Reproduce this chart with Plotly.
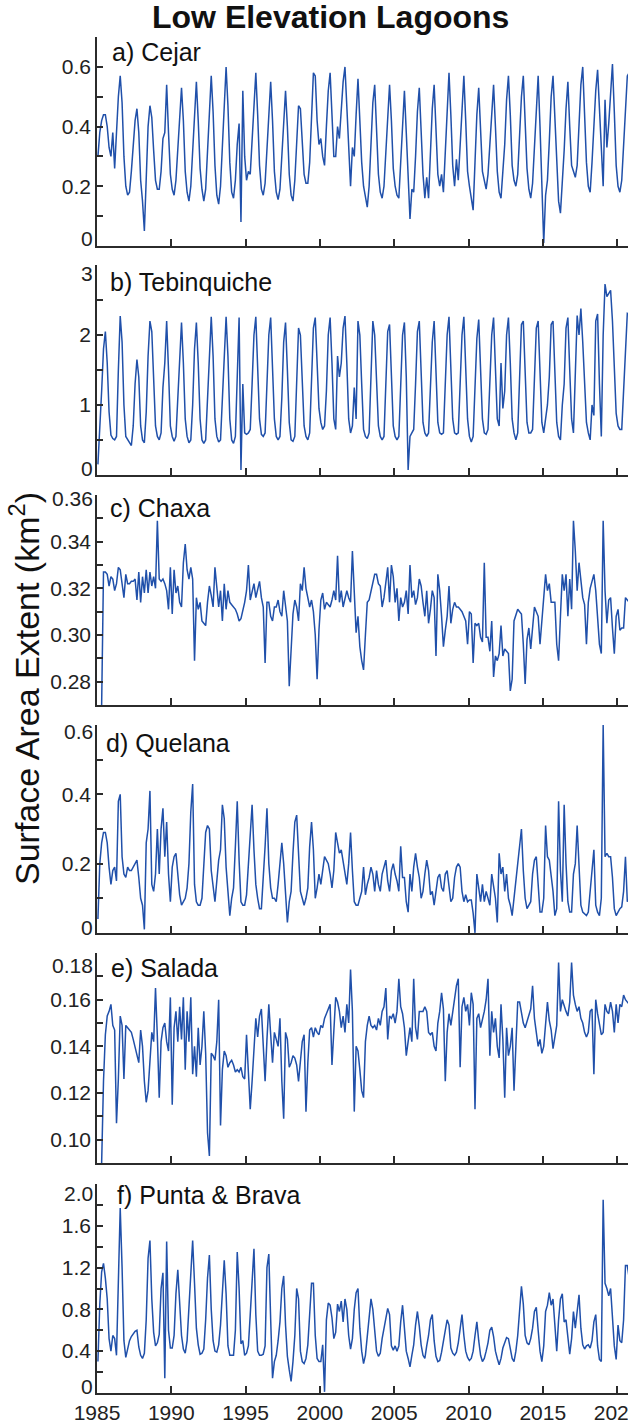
import plotly.graph_objects as go

# ---------------- data (8 samples per year, 1985-2020) ----------------
years = list(range(1985, 2021))
per_year = 8
t = [y + (k + 0.5) / per_year for y in years for k in range(per_year)]

cejar = [
    0.30, 0.38, 0.42, 0.44, 0.44, 0.40, 0.33, 0.30,
    0.38, 0.26, 0.38, 0.50, 0.57, 0.48, 0.30, 0.20,
    0.17, 0.18, 0.25, 0.34, 0.42, 0.46, 0.38, 0.22,
    0.15, 0.05, 0.25, 0.40, 0.47, 0.43, 0.32, 0.22,
    0.19, 0.19, 0.25, 0.36, 0.38, 0.54, 0.38, 0.24,
    0.19, 0.17, 0.22, 0.33, 0.45, 0.53, 0.42, 0.25,
    0.18, 0.15, 0.20, 0.33, 0.47, 0.55, 0.42, 0.26,
    0.19, 0.15, 0.19, 0.32, 0.48, 0.57, 0.45, 0.27,
    0.17, 0.14, 0.20, 0.34, 0.50, 0.60, 0.47, 0.28,
    0.18, 0.16, 0.22, 0.34, 0.41, 0.08, 0.52, 0.30,
    0.22, 0.25, 0.24, 0.36, 0.50, 0.58, 0.44, 0.27,
    0.19, 0.17, 0.21, 0.33, 0.46, 0.55, 0.42, 0.25,
    0.18, 0.155, 0.19, 0.30, 0.43, 0.52, 0.40, 0.24,
    0.17, 0.15, 0.22, 0.34, 0.47, 0.46, 0.36, 0.24,
    0.21, 0.21, 0.28, 0.42, 0.58, 0.57, 0.42, 0.34,
    0.36, 0.30, 0.27, 0.40, 0.52, 0.58, 0.45, 0.30,
    0.30, 0.40, 0.36, 0.45, 0.55, 0.60, 0.46, 0.30,
    0.20, 0.33, 0.30, 0.44, 0.56, 0.42, 0.28, 0.20,
    0.16, 0.13, 0.20, 0.33, 0.48, 0.54, 0.40, 0.24,
    0.18, 0.16, 0.20, 0.32, 0.46, 0.54, 0.42, 0.26,
    0.20, 0.17, 0.16, 0.28, 0.44, 0.52, 0.38, 0.22,
    0.09, 0.19, 0.18, 0.30, 0.45, 0.53, 0.38, 0.24,
    0.16, 0.23, 0.16, 0.30, 0.46, 0.54, 0.40, 0.24,
    0.20, 0.24, 0.18, 0.32, 0.48, 0.58, 0.44, 0.27,
    0.20, 0.29, 0.22, 0.34, 0.49, 0.57, 0.42, 0.25,
    0.20, 0.15, 0.12, 0.28, 0.44, 0.53, 0.40, 0.25,
    0.22, 0.19, 0.24, 0.34, 0.48, 0.54, 0.40, 0.25,
    0.18, 0.16, 0.25, 0.34, 0.49, 0.57, 0.44, 0.27,
    0.22, 0.20, 0.24, 0.36, 0.50, 0.57, 0.43, 0.26,
    0.19, 0.16, 0.21, 0.34, 0.49, 0.57, 0.40, 0.20,
    0.01, 0.17, 0.22, 0.35, 0.50, 0.57, 0.42, 0.24,
    0.15, 0.11, 0.20, 0.32, 0.46, 0.55, 0.40, 0.27,
    0.25, 0.23, 0.27, 0.40, 0.54, 0.60, 0.45, 0.28,
    0.20, 0.18, 0.28, 0.40, 0.52, 0.59, 0.45, 0.30,
    0.20, 0.49, 0.33, 0.41, 0.52, 0.61, 0.45, 0.27,
    0.20, 0.18, 0.22, 0.34, 0.48, 0.57, 0.58, 0.45,
]

tebinquiche = [
    0.15, 0.60, 1.20, 1.80, 2.05, 1.60, 0.90, 0.57,
    0.52, 0.50, 0.55, 1.50, 2.27, 1.90, 1.00, 0.55,
    0.50, 0.45, 0.42, 0.70, 1.30, 1.65, 1.40, 0.70,
    0.50, 0.46, 0.90, 1.70, 2.20, 2.05, 1.40, 0.70,
    0.55, 0.50, 0.60, 1.25, 1.60, 2.20, 1.50, 0.70,
    0.55, 0.48, 0.55, 1.10, 1.80, 2.18, 1.60, 0.80,
    0.55, 0.46, 0.50, 1.00, 1.80, 2.18, 1.60, 0.80,
    0.50, 0.45, 0.50, 1.10, 1.90, 2.26, 1.70, 0.80,
    0.55, 0.47, 0.50, 1.10, 1.90, 2.26, 1.70, 0.80,
    0.50, 0.45, 0.55, 1.30, 2.25, 0.07, 1.30, 0.60,
    0.58, 0.60, 0.65, 1.30, 2.00, 2.26, 1.60, 0.80,
    0.58, 0.55, 0.60, 1.20, 2.00, 2.25, 1.60, 0.80,
    0.55, 0.50, 0.55, 1.10, 1.90, 2.18, 1.50, 0.75,
    0.50, 0.48, 0.55, 1.30, 2.10, 2.00, 1.30, 0.70,
    0.55, 0.50, 0.60, 1.30, 2.10, 2.25, 1.50, 0.95,
    0.75, 0.65, 0.70, 1.20, 2.00, 2.25, 1.60, 0.80,
    0.65, 1.70, 1.40, 1.60, 2.10, 2.27, 1.60, 0.80,
    0.60, 0.70, 1.25, 0.80, 2.20, 2.00, 1.30, 0.65,
    0.55, 0.52, 0.60, 1.40, 2.20, 2.00, 1.30, 0.70,
    0.55, 0.50, 0.55, 1.20, 2.05, 2.15, 1.40, 0.70,
    0.55, 0.50, 0.55, 1.20, 2.00, 2.18, 1.40, 0.07,
    0.55, 0.60, 0.65, 1.30, 2.05, 2.20, 1.50, 0.75,
    0.60, 0.55, 0.60, 1.20, 1.90, 2.20, 1.50, 0.75,
    0.60, 0.58, 0.60, 1.20, 2.00, 2.26, 1.60, 0.80,
    0.60, 0.58, 0.60, 1.20, 2.00, 2.26, 1.60, 0.80,
    0.55, 0.47, 0.55, 1.20, 1.95, 2.22, 1.60, 0.80,
    0.60, 0.58, 0.65, 1.30, 2.00, 2.25, 1.60, 0.80,
    0.70, 1.60, 0.95, 1.20, 2.00, 2.25, 1.60, 0.80,
    0.60, 0.50, 0.60, 1.40, 2.15, 2.20, 1.50, 0.75,
    0.60, 0.60, 0.65, 1.30, 2.10, 2.20, 1.50, 0.75,
    0.60, 0.80, 1.00, 1.40, 2.15, 2.20, 1.50, 0.75,
    0.55, 0.50, 1.00, 1.30, 2.10, 2.25, 1.50, 0.80,
    0.60, 1.60, 2.28, 2.00, 2.38, 1.90, 1.20, 0.75,
    0.60, 0.50, 1.00, 0.85, 2.20, 2.30, 1.30, 0.55,
    2.00, 2.73, 2.55, 2.60, 2.64, 2.20, 1.50, 0.88,
    0.70, 0.65, 0.65, 1.20, 1.90, 2.31, 2.30, 2.00,
]

chaxa = [
    None, None, 0.270, 0.327, 0.327, 0.326, 0.321, 0.325,
    0.324, 0.319, 0.322, 0.329, 0.328, 0.322, 0.316, 0.326,
    0.322, 0.322, 0.323, 0.323, 0.324, 0.315, 0.327, 0.314,
    0.325, 0.318, 0.328, 0.318, 0.327, 0.321, 0.325, 0.320,
    0.349, 0.324, 0.323, 0.324, 0.322, 0.319, 0.311, 0.329,
    0.309, 0.328, 0.318, 0.321, 0.314, 0.312, 0.331, 0.339,
    0.328, 0.324, 0.329, 0.324, 0.289, 0.316, 0.311, 0.314,
    0.306, 0.305, 0.304, 0.314, 0.321, 0.317, 0.312, 0.329,
    0.321, 0.312, 0.319, 0.306, 0.322, 0.311, 0.319, 0.314,
    0.313, 0.312, 0.311, 0.309, 0.306, 0.307, 0.310, 0.314,
    0.319, 0.330, 0.315, 0.318, 0.322, 0.316, 0.319, 0.323,
    0.316, 0.312, 0.288, 0.314, 0.314, 0.308, 0.306, 0.312,
    0.312, 0.315, 0.310, 0.308, 0.319, 0.311, 0.306, 0.278,
    0.296, 0.309, 0.315, 0.312, 0.306, 0.322, 0.319, 0.329,
    0.320, 0.316, 0.312, 0.315, 0.310, 0.300, 0.281, 0.302,
    0.315, 0.318, 0.311, 0.314, 0.313, 0.312, 0.315, 0.319,
    0.315, 0.334, 0.314, 0.319, 0.312, 0.315, 0.319, 0.316,
    0.314, 0.336, 0.316, 0.301, 0.308, 0.295, 0.289, 0.285,
    0.300, 0.314, 0.315, 0.319, 0.322, 0.326, 0.326, 0.322,
    0.321, 0.312, 0.316, 0.322, 0.329, 0.314, 0.330, 0.325,
    0.314, 0.320, 0.306, 0.316, 0.312, 0.314, 0.319, 0.309,
    0.330, 0.316, 0.319, 0.313, 0.316, 0.324, 0.321, 0.314,
    0.308, 0.319, 0.305, 0.311, 0.319, 0.316, 0.291, 0.326,
    0.319, 0.308, 0.295, 0.302, 0.308, 0.321, 0.305, 0.311,
    0.314, 0.312, 0.312, 0.311, 0.310, 0.308, 0.306, 0.296,
    0.310, 0.309, 0.288, 0.305, 0.304, 0.305, 0.299, 0.297,
    0.331, 0.299, 0.299, 0.293, 0.306, 0.282, 0.291, 0.289,
    0.292, 0.304, 0.291, 0.294, 0.293, 0.292, 0.276, 0.281,
    0.306, 0.309, 0.311, 0.310, 0.309, 0.296, 0.279, 0.298,
    0.303, 0.294, 0.305, 0.312, 0.310, 0.308, 0.296, 0.306,
    0.315, 0.326, 0.319, 0.322, 0.314, 0.314, 0.314, 0.296,
    0.289, 0.308, 0.326, 0.319, 0.326, 0.308, 0.324, 0.311,
    0.349, 0.336, 0.319, 0.331, 0.322, 0.316, 0.313, 0.296,
    0.314, 0.320, 0.323, 0.326, 0.319, 0.308, 0.296, 0.292,
    0.349, 0.319, 0.305, 0.315, 0.316, 0.303, 0.292, 0.308,
    0.311, 0.302, 0.303, 0.303, 0.316, 0.315, 0.314, 0.312,
]

quelana = [
    0.04, 0.20, 0.26, 0.29, 0.29, 0.26, 0.19, 0.14,
    0.18, 0.19, 0.15, 0.38, 0.40, 0.22, 0.17, 0.16,
    0.19, 0.18, 0.18, 0.19, 0.20, 0.21, 0.16, 0.10,
    0.08, 0.01, 0.26, 0.30, 0.41, 0.14, 0.12, 0.17,
    0.30, 0.17, 0.30, 0.36, 0.22, 0.32, 0.17, 0.09,
    0.19, 0.22, 0.23, 0.16, 0.11, 0.08, 0.09, 0.10,
    0.13, 0.20, 0.35, 0.43, 0.14, 0.09, 0.08, 0.08,
    0.10, 0.18, 0.29, 0.31, 0.30, 0.18, 0.13, 0.09,
    0.15, 0.21, 0.24, 0.37, 0.33, 0.19, 0.12, 0.05,
    0.10, 0.13, 0.25, 0.38, 0.21, 0.09, 0.08, 0.08,
    0.11, 0.20, 0.30, 0.37, 0.24, 0.14, 0.10, 0.07,
    0.07, 0.15, 0.25, 0.36, 0.20, 0.13, 0.10, 0.10,
    0.09, 0.14, 0.20, 0.26, 0.20, 0.12, 0.03, 0.09,
    0.12, 0.23, 0.32, 0.34, 0.22, 0.12, 0.10, 0.08,
    0.10, 0.13, 0.25, 0.32, 0.24, 0.10, 0.13, 0.17,
    0.14, 0.18, 0.22, 0.21, 0.20, 0.17, 0.13, 0.18,
    0.29, 0.26, 0.23, 0.24, 0.21, 0.18, 0.14, 0.20,
    0.29, 0.18, 0.09, 0.08, 0.08, 0.10, 0.12, 0.19,
    0.11, 0.14, 0.16, 0.19, 0.17, 0.12, 0.18, 0.14,
    0.12, 0.17, 0.19, 0.21, 0.15, 0.12, 0.18, 0.20,
    0.17, 0.15, 0.12, 0.25, 0.16, 0.16, 0.09, 0.06,
    0.17, 0.12, 0.19, 0.23, 0.19, 0.16, 0.10, 0.12,
    0.17, 0.21, 0.18, 0.11, 0.12, 0.08, 0.12, 0.16,
    0.17, 0.13, 0.12, 0.17, 0.18, 0.14, 0.09, 0.10,
    0.16, 0.19, 0.20, 0.19, 0.12, 0.09, 0.11, 0.09,
    0.095, 0.095, 0.057, 0.0, 0.17, 0.13, 0.09, 0.14,
    0.09, 0.12, 0.10, 0.08, 0.17, 0.13, 0.10, 0.03,
    0.23, 0.17, 0.19, 0.12, 0.17, 0.10, 0.08, 0.05,
    0.10, 0.16, 0.22, 0.27, 0.30, 0.18, 0.10, 0.07,
    0.08, 0.09, 0.17, 0.21, 0.22, 0.12, 0.06, 0.06,
    0.10, 0.31, 0.22, 0.21, 0.17, 0.12, 0.05, 0.07,
    0.38, 0.18, 0.09, 0.37, 0.20, 0.09, 0.06, 0.06,
    0.17, 0.20, 0.31, 0.17, 0.08, 0.06, 0.055, 0.05,
    0.06, 0.12, 0.18, 0.24, 0.08, 0.06, 0.05, 0.10,
    0.60, 0.22, 0.23, 0.22, 0.22, 0.16, 0.07, 0.05,
    0.06, 0.07, 0.075, 0.12, 0.22, 0.09, 0.10, 0.12,
]

salada = [
    None, None, 0.090, 0.125, 0.145, 0.153, 0.155, 0.158,
    0.149, 0.147, 0.107, 0.126, 0.153, 0.149, 0.126, 0.149,
    0.148, 0.147, 0.146, 0.143, 0.140, 0.136, 0.133, 0.147,
    0.140, 0.125, 0.116, 0.121, 0.136, 0.146, 0.142, 0.165,
    0.144, 0.118, 0.142, 0.148, 0.150, 0.142, 0.138, 0.161,
    0.115, 0.148, 0.155, 0.142, 0.157, 0.143, 0.161, 0.130,
    0.155, 0.142, 0.161, 0.128, 0.140, 0.127, 0.148, 0.132,
    0.140, 0.155, 0.137, 0.103, 0.093, 0.137, 0.136, 0.134,
    0.142, 0.160, 0.106, 0.130, 0.138, 0.136, 0.131, 0.133,
    0.134, 0.132, 0.129, 0.130, 0.129, 0.131, 0.127, 0.126,
    0.145, 0.130, 0.113, 0.125, 0.140, 0.152, 0.144, 0.153,
    0.156, 0.140, 0.125, 0.143, 0.158, 0.145, 0.133, 0.146,
    0.143, 0.140, 0.152, 0.125, 0.109, 0.146, 0.143, 0.131,
    0.133, 0.136, 0.135, 0.132, 0.125, 0.135, 0.142, 0.145,
    0.112, 0.133, 0.147, 0.148, 0.144, 0.148, 0.146, 0.145,
    0.149, 0.148, 0.152, 0.154, 0.156, 0.158, 0.132, 0.146,
    0.161, 0.159, 0.155, 0.148, 0.153, 0.146, 0.158, 0.150,
    0.173, 0.155, 0.112, 0.140, 0.138, 0.130, 0.121, 0.118,
    0.142, 0.149, 0.153, 0.149, 0.148, 0.149, 0.147, 0.152,
    0.149, 0.155, 0.157, 0.165, 0.143, 0.153, 0.152, 0.154,
    0.150, 0.155, 0.169, 0.157, 0.154, 0.148, 0.136, 0.142,
    0.148, 0.142, 0.169, 0.148, 0.143, 0.155, 0.155, 0.155,
    0.157, 0.155, 0.146, 0.145, 0.146, 0.140, 0.138, 0.150,
    0.155, 0.163, 0.156, 0.125, 0.146, 0.154, 0.149, 0.155,
    0.160, 0.166, 0.169, 0.131, 0.157, 0.161, 0.155, 0.158,
    0.149, 0.163, 0.158, 0.113, 0.152, 0.154, 0.148, 0.151,
    0.155, 0.160, 0.169, 0.136, 0.155, 0.146, 0.152, 0.140,
    0.135, 0.158, 0.143, 0.118, 0.148, 0.136, 0.140, 0.148,
    0.121, 0.140, 0.159, 0.159, 0.155, 0.150, 0.148, 0.151,
    0.153, 0.156, 0.166, 0.152, 0.146, 0.140, 0.143, 0.137,
    0.140, 0.149, 0.159, 0.151, 0.147, 0.139, 0.144, 0.149,
    0.176, 0.155, 0.160, 0.157, 0.155, 0.153, 0.159, 0.176,
    0.162, 0.158, 0.155, 0.157, 0.152, 0.150, 0.146, 0.144,
    0.146, 0.155, 0.156, 0.128, 0.160, 0.154, 0.149, 0.145,
    0.146, 0.158, 0.155, 0.154, 0.159, 0.155, 0.146, 0.158,
    0.150, 0.158, 0.157, 0.162, 0.160, 0.159, 0.158, 0.157,
]

punta_brava = [
    0.30, 0.85, 1.16, 1.24, 1.10, 0.90, 0.52, 0.40,
    0.55, 0.52, 0.36, 1.20, 1.77, 1.20, 0.50, 0.34,
    0.44, 0.50, 0.54, 0.57, 0.59, 0.60, 0.44, 0.36,
    0.33, 0.38, 0.70, 1.29, 1.46, 0.90, 0.58, 0.45,
    0.48, 0.56, 1.00, 1.15, 0.14, 1.45, 0.60, 0.43,
    0.43, 0.55, 0.95, 1.18, 0.90, 0.55, 0.42, 0.38,
    0.50, 0.80, 1.10, 1.46, 1.05, 0.62, 0.46, 0.37,
    0.38, 0.42, 0.70, 1.10, 1.32, 0.80, 0.50, 0.40,
    0.39, 0.46, 0.65, 0.95, 1.27, 0.95, 0.45, 0.36,
    0.36, 0.36, 0.60, 1.35, 1.00, 0.47, 0.50, 0.36,
    0.38, 0.45, 0.75, 1.10, 1.38, 0.75, 0.40, 0.36,
    0.36, 0.37, 0.45, 1.20, 1.33, 0.70, 0.14, 0.30,
    0.36, 0.50, 0.68, 1.00, 1.12, 0.65, 0.35, 0.22,
    0.11, 0.30, 0.55, 1.00, 0.90, 0.40, 0.30, 0.28,
    0.33, 0.46, 0.80, 1.05, 1.05, 0.55, 0.33, 0.30,
    0.30, 0.46, 0.01, 0.70, 0.86, 0.84, 0.72, 0.52,
    0.58, 0.85, 0.78, 0.88, 0.68, 0.90, 0.80, 0.55,
    0.42, 0.52, 0.80, 0.96, 1.00, 0.62, 0.40, 0.28,
    0.36, 0.52, 0.71, 0.90, 0.80, 0.58, 0.40, 0.35,
    0.38, 0.52, 0.62, 0.75, 0.81, 0.75, 0.45, 0.41,
    0.45, 0.40, 0.45, 0.68, 0.84, 0.62, 0.40, 0.33,
    0.25, 0.36, 0.46, 0.65, 0.78, 0.64, 0.46, 0.36,
    0.33, 0.45, 0.55, 0.70, 0.75, 0.50, 0.35, 0.30,
    0.31, 0.39, 0.51, 0.60, 0.70, 0.65, 0.43, 0.38,
    0.36, 0.39, 0.48, 0.60, 0.75, 0.55, 0.40, 0.34,
    0.31, 0.33, 0.40, 0.55, 0.68, 0.50, 0.36, 0.30,
    0.33, 0.40, 0.48, 0.60, 0.63, 0.54, 0.40, 0.33,
    0.27, 0.33, 0.43, 0.48, 0.53, 0.52, 0.42, 0.33,
    0.30, 0.40, 0.55, 0.84, 1.02, 0.85, 0.55, 0.48,
    0.46, 0.52, 0.62, 0.78, 0.82, 0.60, 0.40, 0.30,
    0.45, 0.78, 0.84, 0.96, 0.84, 0.90, 0.65, 0.40,
    0.70, 0.90, 0.95, 0.68, 0.70, 0.50, 0.37, 0.52,
    0.78, 0.62, 0.82, 0.94, 0.62, 0.46, 0.42, 0.45,
    0.46, 0.43, 0.50, 0.68, 0.75, 0.45, 0.32, 0.30,
    1.85, 1.05, 1.00, 0.93, 1.00, 0.75, 0.45, 0.32,
    0.65, 0.50, 0.48, 0.70, 1.22, 1.22, 1.10, 0.90,
]

x_ticks = [1985, 1990, 1995, 2000, 2005, 2010, 2015, 2020]

# ---------------- layout configuration ----------------
W, H = 628, 1425
ML, MR, MT, MB = 97, 0, 37, 32
PH = H - MT - MB
PW = W - ML - MR
X_END = 1985 + PW / 14.86

def ydom(top_px, bot_px):
    return [(H - MB - bot_px) / PH, (H - MB - top_px) / PH]

# inner = labelled ticks drawn by the axis; edge = ticks at the range ends whose
# labels sit slightly inside the panel (as in the reference)
panels = [
    dict(label="a) Cejar", y=cejar, rng=[0, 0.7],
         inner=[0.2, 0.4, 0.6], fmt="{:g}", step=0.1,
         edge=[(0, "0", 7)], top=37, bot=246, lx=110, ly=52),
    dict(label="b) Tebinquiche", y=tebinquiche, rng=[0, 3],
         inner=[1, 2], fmt="{:g}", step=0.5,
         edge=[(3, "3", -8), (0, "0", 6)], top=265, bot=475, lx=108, ly=282),
    dict(label="c) Chaxa", y=chaxa, rng=[0.27, 0.36],
         inner=[0.28, 0.30, 0.32, 0.34], fmt="{:.2f}", step=0.01,
         edge=[(0.36, "0.36", -3)], top=495, bot=705, lx=108, ly=508),
    dict(label="d) Quelana", y=quelana, rng=[0, 0.6],
         inner=[0.2, 0.4], fmt="{:g}", step=0.1,
         edge=[(0.6, "0.6", -6), (0, "0", 5)], top=725, bot=933, lx=104, ly=743),
    dict(label="e) Salada", y=salada, rng=[0.09, 0.18],
         inner=[0.10, 0.12, 0.14, 0.16], fmt="{:.2f}", step=0.01,
         edge=[(0.18, "0.18", -12)], top=953, bot=1163, lx=109, ly=968),
    dict(label="f) Punta & Brava", y=punta_brava, rng=[0, 2.0],
         inner=[0.4, 0.8, 1.2, 1.6], fmt="{:.1f}", step=0.2,
         edge=[(2.0, "2.0", -9), (0, "0", 6)], top=1184, bot=1393, lx=115, ly=1195),
]

LINE = "#2050aa"
AX = "#2b2b2b"
TXT = "#222222"
FONT = "Liberation Sans, Arial, sans-serif"
TICK_SIZE = 21

fig = go.Figure()
layout = dict(
    width=W, height=H,
    margin=dict(l=ML, r=MR, t=MT, b=MB, autoexpand=False),
    paper_bgcolor="white", plot_bgcolor="white",
    showlegend=False,
    font=dict(family=FONT, size=20, color=TXT),
)
annotations = []
n = len(panels)
for i, p in enumerate(panels):
    k = "" if i == 0 else str(i + 1)
    fig.add_trace(go.Scatter(
        x=t, y=p["y"], mode="lines",
        line=dict(color=LINE, width=1.5),
        xaxis="x" + k, yaxis="y" + k, hoverinfo="skip",
    ))
    lo, hi = p["rng"]
    span = hi - lo
    nsteps = int(round(span / p["step"]))
    all_ticks = [round(lo + j * p["step"], 4) for j in range(nsteps + 1)]
    minor_vals = [v for v in all_ticks if all(abs(v - m) > 1e-6 for m in p["inner"])]
    layout["xaxis" + k] = dict(
        domain=[0, 1], anchor="y" + k, automargin=False,
        range=[1985, X_END],
        tickmode="array", tickvals=x_ticks,
        showticklabels=(i == n - 1), ticklabeloverflow="allow",
        ticks="inside", ticklen=7, tickwidth=1.5, tickcolor=AX,
        showline=True, linecolor=AX, linewidth=2.2,
        showgrid=False, zeroline=False,
        tickfont=dict(family=FONT, size=TICK_SIZE, color=TXT),
    )
    layout["yaxis" + k] = dict(
        domain=ydom(p["top"], p["bot"]), anchor="x" + k, automargin=False,
        range=[lo - span * 0.0005, hi + span * 0.0005],
        tickmode="array", tickvals=p["inner"],
        ticktext=[p["fmt"].format(v) for v in p["inner"]],
        ticks="inside", ticklen=6, tickwidth=1.5, tickcolor=AX,
        minor=dict(tickmode="array", tickvals=minor_vals,
                   ticks="inside", ticklen=6, tickwidth=1.5, tickcolor=AX),
        showline=True, linecolor=AX, linewidth=1.6,
        showgrid=False, zeroline=False,
        tickfont=dict(family=FONT, size=TICK_SIZE, color=TXT),
    )
    for val, txt, ysh in p["edge"]:
        annotations.append(dict(
            text=txt, xref="paper", yref="y" + k, x=0, y=val,
            xanchor="right", yanchor="middle", xshift=-2, yshift=ysh,
            showarrow=False,
            font=dict(family=FONT, size=TICK_SIZE, color=TXT),
        ))
    annotations.append(dict(
        text=p["label"], xref="paper", yref="paper",
        x=(p["lx"] - ML) / PW, y=(H - MB - p["ly"]) / PH,
        xanchor="left", yanchor="middle", showarrow=False,
        font=dict(family=FONT, size=25, color="#111111"),
    ))

annotations.append(dict(
    text="<b>Low Elevation Lagoons</b>", xref="paper", yref="paper",
    x=(330 - ML) / PW, y=(H - MB - 17) / PH,
    xanchor="center", yanchor="middle", showarrow=False,
    font=dict(family=FONT, size=32, color="#111111"),
))
annotations.append(dict(
    text="Surface Area Extent (km<sup>2</sup>)", xref="paper", yref="paper",
    x=(24 - ML) / PW, y=(H - MB - 689) / PH, textangle=-90,
    xanchor="center", yanchor="middle", showarrow=False,
    font=dict(family=FONT, size=34, color="#111111"),
))
layout["annotations"] = annotations
fig.update_layout(**layout)
fig.write_html(
    "out.html",
    config={"displayModeBar": False},
    post_script="document.documentElement.style.margin='0';"
                "document.body.style.margin='0';document.body.style.overflow='hidden';",
)
